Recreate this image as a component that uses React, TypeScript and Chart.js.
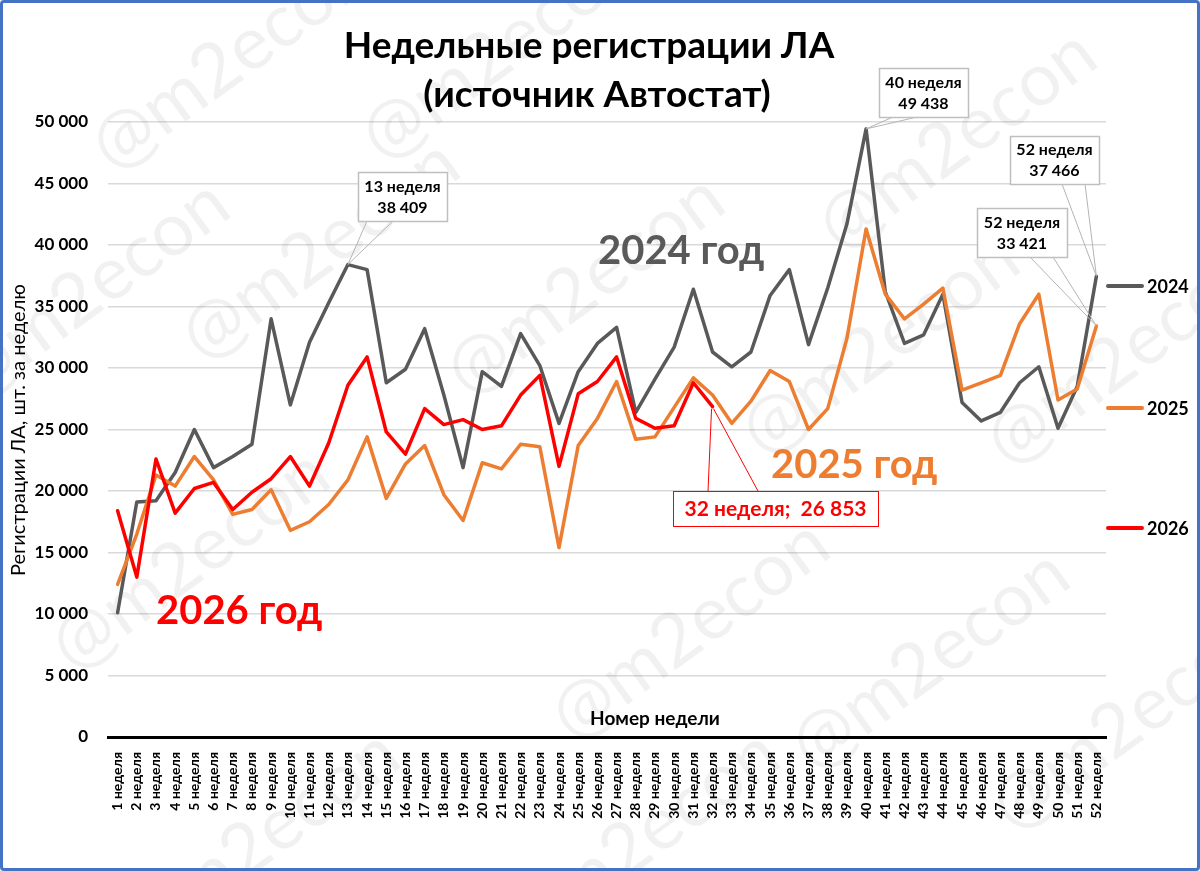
import { useEffect, useRef } from 'react';
import { Chart, registerables } from 'chart.js';

Chart.register(...registerables);

const FONT = 'Lato, "Noto Sans", sans-serif';

// weekly registrations
const weeks = Array.from({ length: 52 }, (_, i) => `${i + 1} неделя`);

const y2024 = [
  10100, 19100, 19200, 21500, 25000, 21900, 22800, 23800, 34000, 27000,
  32100, 35300, 38409, 38000, 28800, 29900, 33200, 27800, 21900, 29700,
  28500, 32800, 30200, 25500, 29700, 32000, 33300, 26400, 29100, 31700,
  36400, 31300, 30100, 31300, 35900, 38000, 31900, 36500, 41700, 49438,
  36200, 32000, 32700, 36000, 27200, 25700, 26400, 28800, 30100, 25100,
  28500, 37466,
];

const y2025 = [
  12400, 16500, 21300, 20400, 22800, 20900, 18100, 18500, 20100, 16800,
  17500, 18900, 20900, 24400, 19400, 22200, 23700, 19700, 17600, 22300,
  21800, 23800, 23600, 15400, 23700, 25900, 28900, 24200, 24400, 26800,
  29200, 27800, 25500, 27300, 29800, 28900, 25000, 26700, 32400, 41300,
  36000, 34000, 35200, 36500, 28200, 28800, 29400, 33600, 36000, 27400,
  28300, 33421,
];

const y2026 = [
  18400, 13000, 22600, 18200, 20200, 20700, 18500, 19900, 21000, 22800,
  20400, 23900, 28600, 30900, 24800, 23000, 26700, 25400, 25800, 25000,
  25300, 27800, 29400, 22000, 27900, 28900, 30900, 25900, 25100, 25300,
  28800, 26853,
];

const GRAY = '#595959';
const ORANGE = '#ED7D31';
const RED = '#FF0000';

const fmt = (v: number) => String(v).replace(/\B(?=(\d{3})+(?!\d))/g, ' ');

// grey callout boxes: series, week index, text, box and where the leader leaves it
const callouts = [
  { data: y2024, i: 12, t1: '13 неделя', t2: fmt(38409), bx: 358, by: 172, bw: 89, bh: 49, l1: 367, l2: 393 },
  { data: y2024, i: 39, t1: '40 неделя', t2: fmt(49438), bx: 879, by: 68, bw: 89, bh: 49, l1: 893, l2: 917 },
  { data: y2024, i: 51, t1: '52 неделя', t2: fmt(37466), bx: 1010, by: 136, bw: 89, bh: 48, l1: 1062, l2: 1085 },
  { data: y2025, i: 51, t1: '52 неделя', t2: fmt(33421), bx: 977, by: 208, bw: 90, bh: 49, l1: 1030, l2: 1053 },
];

const watermarks = [
  [230, 60], [500, 50], [90, 290], [320, 250], [585, 285], [190, 560],
  [690, 630], [880, 345], [957, 140], [1125, 355], [930, 660], [640, 840],
  [260, 840], [1130, 720],
];

const overlay = {
  id: 'overlay',
  beforeDatasetsDraw(chart: any) {
    const { ctx } = chart;
    ctx.save();
    ctx.fillStyle = 'rgba(0,0,0,0.055)';
    ctx.font = `74px ${FONT}`;
    ctx.textAlign = 'center';
    ctx.textBaseline = 'middle';
    for (const [wx, wy] of watermarks) {
      ctx.save();
      ctx.translate(wx, wy);
      ctx.rotate(-36 * Math.PI / 180);
      ctx.fillText('@m2econ', 0, 0);
      ctx.restore();
    }
    ctx.restore();
  },
  afterDraw(chart: any) {
    const { ctx, scales } = chart;
    const x = scales.x;
    const y = scales.y;
    ctx.save();

    // title
    ctx.fillStyle = '#000';
    ctx.textAlign = 'center';
    ctx.textBaseline = 'middle';
    ctx.font = `bold 37px ${FONT}`;
    ctx.fillText('Недельные регистрации ЛА', 589, 46);
    ctx.fillText('(источник Автостат)', 597, 95);

    // axis titles
    ctx.font = `bold 19px ${FONT}`;
    ctx.fillText('Номер недели', 655, 719);
    ctx.save();
    ctx.translate(19, 430);
    ctx.rotate(-Math.PI / 2);
    ctx.font = `20px ${FONT}`;
    ctx.fillText('Регистрации ЛА, шт. за неделю', 0, 0);
    ctx.restore();

    // legend
    const legend = [
      ['2024', GRAY, 286],
      ['2025', ORANGE, 408],
      ['2026', RED, 528],
    ] as const;
    ctx.font = `bold 18px ${FONT}`;
    ctx.textAlign = 'left';
    for (const [txt, col, ly] of legend) {
      ctx.strokeStyle = col;
      ctx.lineWidth = 4;
      ctx.lineCap = 'round';
      ctx.beginPath();
      ctx.moveTo(1108, ly);
      ctx.lineTo(1142, ly);
      ctx.stroke();
      ctx.fillStyle = '#000';
      ctx.fillText(txt, 1147, ly + 1);
    }

    // big series labels
    ctx.font = `bold 40px ${FONT}`;
    ctx.textAlign = 'left';
    ctx.fillStyle = GRAY;
    ctx.fillText('2024 год', 598, 251);
    ctx.fillStyle = ORANGE;
    ctx.fillText('2025 год', 771, 465);
    ctx.fillStyle = RED;
    ctx.fillText('2026 год', 156, 611);

    // grey callouts
    ctx.lineCap = 'butt';
    for (const c of callouts) {
      const px = x.getPixelForValue(c.i);
      const py = y.getPixelForValue(c.data[c.i]);
      ctx.strokeStyle = '#b4b4b4';
      ctx.lineWidth = 1;
      ctx.beginPath();
      ctx.moveTo(c.l1, c.by + c.bh);
      ctx.lineTo(px, py);
      ctx.lineTo(c.l2, c.by + c.bh);
      ctx.stroke();
      ctx.fillStyle = '#fff';
      ctx.fillRect(c.bx, c.by, c.bw, c.bh);
      ctx.strokeStyle = '#bfbfbf';
      ctx.lineWidth = 1.5;
      ctx.strokeRect(c.bx + 0.5, c.by + 0.5, c.bw, c.bh);
      ctx.fillStyle = '#000';
      ctx.textAlign = 'center';
      ctx.font = `bold 16px ${FONT}`;
      ctx.fillText(c.t1, c.bx + c.bw / 2, c.by + c.bh / 2 - 10);
      ctx.fillText(c.t2, c.bx + c.bw / 2, c.by + c.bh / 2 + 11);
    }

    // red callout for the last 2026 week
    const ri = y2026.length - 1;
    const rx = x.getPixelForValue(ri);
    const ry = y.getPixelForValue(y2026[ri]);
    ctx.strokeStyle = RED;
    ctx.lineWidth = 1;
    ctx.beginPath();
    ctx.moveTo(708, 491);
    ctx.lineTo(rx - 1, ry + 2);
    ctx.moveTo(758, 491);
    ctx.lineTo(rx + 1, ry + 2);
    ctx.stroke();
    ctx.fillStyle = '#fff';
    ctx.fillRect(673, 491, 205, 35);
    ctx.strokeRect(673.5, 491.5, 205, 35);
    ctx.fillStyle = RED;
    ctx.font = `bold 21px ${FONT}`;
    ctx.fillText(`${ri + 1} неделя;  ${fmt(y2026[ri])}`, 775.5, 509);

    ctx.restore();
  },
};

export default function App() {
  const canvasRef = useRef<HTMLCanvasElement>(null);
  const chartRef = useRef<Chart | null>(null);

  useEffect(() => {
    if (!canvasRef.current) return;
    if (chartRef.current) chartRef.current.destroy();

    const line = (label: string, data: number[], color: string, order: number) => ({
      label,
      data,
      borderColor: color,
      backgroundColor: color,
      borderWidth: 3.5,
      pointRadius: 0,
      tension: 0,
      borderJoinStyle: 'round' as const,
      borderCapStyle: 'round' as const,
      order,
    });

    chartRef.current = new Chart(canvasRef.current, {
      type: 'line',
      data: {
        labels: weeks,
        datasets: [
          line('2024', y2024, GRAY, 3),
          line('2025', y2025, ORANGE, 2),
          line('2026', y2026, RED, 1),
        ],
      },
      options: {
        animation: false,
        responsive: true,
        maintainAspectRatio: false,
        layout: { padding: { left: 0, right: 94, top: 122, bottom: 0 } },
        plugins: {
          legend: { display: false },
          tooltip: { enabled: false },
          title: { display: false },
        },
        scales: {
          x: {
            type: 'category',
            offset: true,
            grid: { display: false },
            border: { display: true, color: '#000', width: 3 },
            ticks: {
              autoSkip: false,
              minRotation: 90,
              maxRotation: 90,
              padding: 7,
              color: '#000',
              font: { family: FONT, size: 14, weight: 'bold' },
            },
            afterFit: (s: any) => { s.height = 134; },
          },
          y: {
            min: 0,
            max: 50000,
            grid: { color: '#d9d9d9', lineWidth: 1.5, drawTicks: false },
            border: { display: false },
            ticks: {
              stepSize: 5000,
              padding: 20,
              color: '#000',
              font: { family: FONT, size: 17, weight: 'bold' },
              callback: (v: any) => fmt(Number(v)),
            },
            afterFit: (s: any) => { s.width = 108; },
          },
        },
      },
      plugins: [overlay],
    });

    return () => {
      if (chartRef.current) {
        chartRef.current.destroy();
        chartRef.current = null;
      }
    };
  }, []);

  return (
    <div style={{ position: 'absolute', left: 0, top: 0, width: 1200, height: 871, background: '#fff' }}>
      <canvas ref={canvasRef} />
      <div
        style={{
          position: 'absolute', inset: 0, boxSizing: 'border-box',
          border: '3px solid #4472C4', borderRadius: 4, pointerEvents: 'none',
        }}
      />
    </div>
  );
}
